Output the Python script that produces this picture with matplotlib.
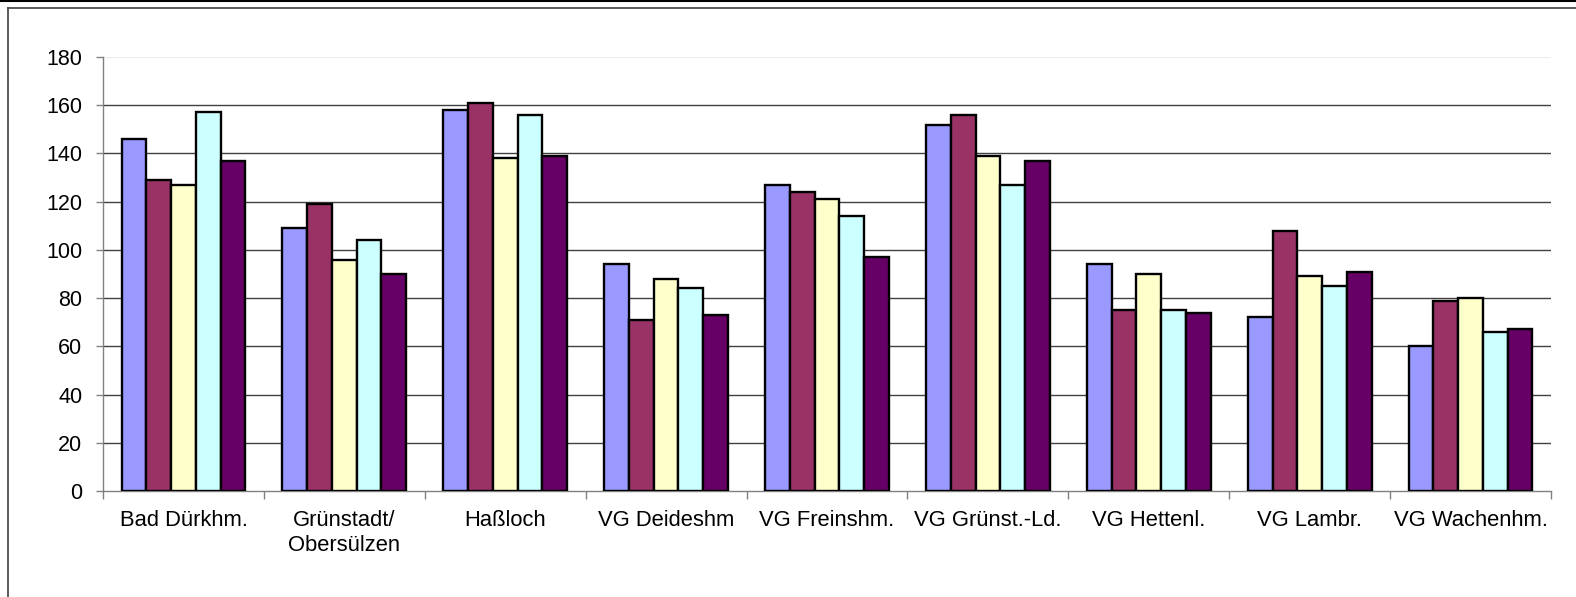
import matplotlib.pyplot as plt
import numpy as np
from matplotlib.lines import Line2D

plt.rcParams['font.family'] = ['Liberation Sans', 'DejaVu Sans']

categories = ['Bad Dürkhm.', 'Grünstadt/\nObersülzen', 'Haßloch', 'VG Deideshm',
              'VG Freinshm.', 'VG Grünst.-Ld.', 'VG Hettenl.', 'VG Lambr.',
              'VG Wachenhm.']
s1 = [146, 109, 158, 94, 127, 152, 94, 72, 60]
s2 = [129, 119, 161, 71, 124, 156, 75, 108, 79]
s3 = [127, 96, 138, 88, 121, 139, 90, 89, 80]
s4 = [157, 104, 156, 84, 114, 127, 75, 85, 66]
s5 = [137, 90, 139, 73, 97, 137, 74, 91, 67]
series = [s1, s2, s3, s4, s5]
colors = ['#9999FF', '#993366', '#FFFFCC', '#CCFFFF', '#660066']
yticks = list(range(0, 181, 20))

fig = plt.figure(figsize=(15.76, 5.97), dpi=100)
ax = fig.add_axes([103/1576, 1-491/597, 1448/1576, 434/597])

x = np.arange(len(categories))
n = len(series)
w = 1 / (n + 1.5)
for i, vals in enumerate(series):
    ax.bar(x + (i - (n-1)/2) * w, vals, width=w, color=colors[i],
           edgecolor='black', linewidth=1.7, zorder=3)

ax.set_xlim(-0.5, len(categories) - 0.5)
ax.set_ylim(0, 180)
ax.set_yticks(yticks)
ax.set_xticks(x)
ax.set_xticklabels(categories, fontsize=15.8, linespacing=1.2)
ax.set_xticks(np.arange(-0.5, len(categories)), minor=True)
ax.tick_params(axis='x', which='major', length=0, pad=14)
ax.tick_params(axis='x', which='minor', length=6, color='#808080', width=1)
ax.tick_params(axis='y', length=5, color='#808080', width=1, pad=10, labelsize=15.5)

for t in yticks[1:-1]:
    ax.axhline(t, color='#404040', linewidth=1, zorder=1)
ax.axhline(180, color='#eeeeee', linewidth=1, zorder=1)

for side in ['top', 'right']:
    ax.spines[side].set_visible(False)
ax.spines['left'].set_color('#808080')
ax.spines['bottom'].set_color('#808080')
ax.spines['left'].set_linewidth(1)
ax.spines['bottom'].set_linewidth(1)

# outer frame of the chart area
fig.add_artist(Line2D([8/1576, 8/1576], [0, 1-8/597], color='#404040', linewidth=1.2))
fig.add_artist(Line2D([8/1576, 1], [1-8/597, 1-8/597], color='#404040', linewidth=1.2))
fig.add_artist(Line2D([0, 1], [1-0.8/597, 1-0.8/597], color='black', linewidth=1.5))

fig.savefig('out.png', dpi=100)
